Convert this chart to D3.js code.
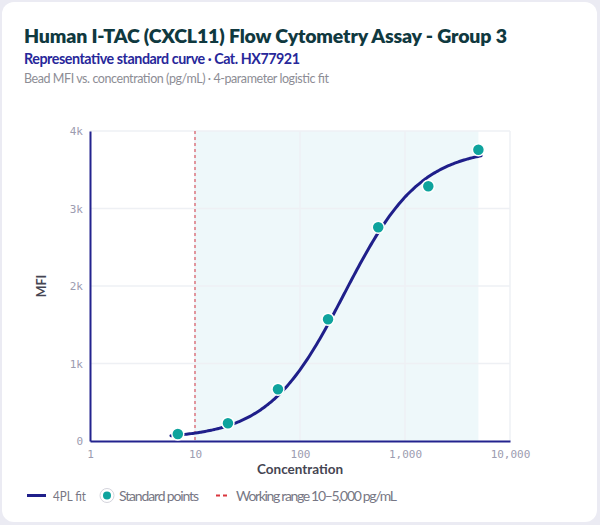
<!DOCTYPE html>
<html>
<head>
<meta charset="utf-8">
<script src="https://cdn.jsdelivr.net/npm/d3@7"></script>
<style>
  html, body { margin: 0; padding: 0; background: #ebebf3; }
  body { width: 600px; height: 525px; overflow: hidden; }
  svg { display: block; }
</style>
</head>
<body>
<div id="chart"></div>
<script>
// standard points (pg/mL, MFI)
const concentrations = [6.86, 20.6, 61.7, 185, 556, 1667, 5000];
const mfiValues = [90, 228, 667, 1570, 2757, 3286, 3759];

// 4PL fit parameters and plotted range
const fitParams = { bottom: 30, top: 3780, ec50: 265, hill: 1.2 };
const fitRange = [5.9, 5300];
const workingRange = [10, 5000];

const xTicks = [1, 10, 100, 1000, 10000];
const yTicks = [0, 1000, 2000, 3000, 4000];

const W = 600, H = 525;
const plot = { left: 90, right: 510, top: 131, bottom: 441 };

const svg = d3.select("#chart").append("svg")
    .attr("width", W)
    .attr("height", H);

// card
svg.append("rect")
    .attr("x", 2).attr("y", 2)
    .attr("width", 595).attr("height", 520)
    .attr("rx", 12)
    .attr("fill", "#fff");

const font = "Lato, 'Noto Sans', sans-serif";
const mono = "'DejaVu Sans Mono', monospace";

svg.append("text")
    .attr("x", 24).attr("y", 43)
    .attr("font-family", font).attr("font-weight", 800).attr("font-size", 19.5)
    .attr("textLength", 483).attr("lengthAdjust", "spacing")
    .attr("fill", "#10393f")
    .text("Human I-TAC (CXCL11) Flow Cytometry Assay - Group 3");
svg.append("text")
    .attr("x", 24).attr("y", 64)
    .attr("font-family", font).attr("font-weight", 700).attr("font-size", 14.3)
    .attr("textLength", 276).attr("lengthAdjust", "spacing")
    .attr("fill", "#27279a")
    .text("Representative standard curve \u00b7 Cat. HX77921");
svg.append("text")
    .attr("x", 24).attr("y", 83)
    .attr("font-family", font).attr("font-size", 12.5)
    .attr("textLength", 305).attr("lengthAdjust", "spacing")
    .attr("fill", "#8d8d95")
    .text("Bead MFI vs. concentration (pg/mL) \u00b7 4-parameter logistic fit");

const x = d3.scaleLog().domain([1, 10000]).range([plot.left, plot.right]);
const y = d3.scaleLinear().domain([0, 4000]).range([plot.bottom, plot.top]);

// working range shading
svg.append("rect")
    .attr("x", x(workingRange[0])).attr("y", plot.top)
    .attr("width", x(workingRange[1]) - x(workingRange[0]))
    .attr("height", plot.bottom - plot.top)
    .attr("fill", "#eef8fa");

// gridlines
const g = svg.append("g");
g.selectAll(".yg").data(yTicks.slice(1)).join("line")
    .attr("x1", plot.left).attr("x2", plot.right)
    .attr("y1", d => y(d)).attr("y2", d => y(d))
    .attr("stroke", "#eef0f4").attr("stroke-width", 1.5);
g.selectAll(".xg").data(xTicks.slice(1)).join("line")
    .attr("x1", d => x(d)).attr("x2", d => x(d))
    .attr("y1", plot.top).attr("y2", plot.bottom)
    .attr("stroke", "#eef0f4").attr("stroke-width", 1.5);

// working range lower limit
svg.append("line")
    .attr("x1", x(workingRange[0])).attr("x2", x(workingRange[0]))
    .attr("y1", plot.top).attr("y2", plot.bottom)
    .attr("stroke", "#d9646e").attr("stroke-width", 1.3)
    .attr("stroke-dasharray", "3,3");

// axes
const xAxis = d3.axisBottom(x).tickValues(xTicks).tickSize(0).tickPadding(9)
    .tickFormat(d3.format(",d"));
const yAxis = d3.axisLeft(y).tickValues(yTicks).tickSize(0).tickPadding(7)
    .tickFormat(d => d === 0 ? "0" : (d / 1000) + "k");

const gx = svg.append("g").attr("transform", `translate(0,${plot.bottom})`).call(xAxis);
const gy = svg.append("g").attr("transform", `translate(${plot.left},0)`).call(yAxis);
[gx, gy].forEach(a => {
    a.select(".domain").attr("stroke", "#23238e").attr("stroke-width", 2);
    a.selectAll("text").attr("font-family", mono).attr("font-size", 11).attr("fill", "#9c9cb0");
});

svg.append("text")
    .attr("x", (plot.left + plot.right) / 2).attr("y", 474)
    .attr("text-anchor", "middle")
    .attr("font-family", font).attr("font-weight", 700).attr("font-size", 13.5)
    .attr("fill", "#454552")
    .text("Concentration");
svg.append("text")
    .attr("transform", `translate(46,${(plot.top + plot.bottom) / 2}) rotate(-90)`)
    .attr("text-anchor", "middle")
    .attr("font-family", font).attr("font-weight", 700).attr("font-size", 12.5)
    .attr("fill", "#454552")
    .text("MFI");

// 4PL curve
const fourPL = c => fitParams.top + (fitParams.bottom - fitParams.top) / (1 + Math.pow(c / fitParams.ec50, fitParams.hill));
const curveX = d3.range(0, 201).map(i => Math.pow(10, Math.log10(fitRange[0]) + i / 200 * (Math.log10(fitRange[1]) - Math.log10(fitRange[0]))));
svg.append("path")
    .datum(curveX)
    .attr("d", d3.line().x(d => x(d)).y(d => y(fourPL(d))).curve(d3.curveMonotoneX))
    .attr("fill", "none")
    .attr("stroke", "#1f1f8a").attr("stroke-width", 3)
    .attr("stroke-linecap", "round");

// standard points
svg.selectAll(".pt").data(concentrations).join("circle")
    .attr("cx", d => x(d))
    .attr("cy", (d, i) => y(mfiValues[i]))
    .attr("r", 6)
    .attr("fill", "#0ea39d")
    .attr("stroke", "#fff").attr("stroke-width", 1.5);

// legend
const lg = svg.append("g").attr("font-family", font).attr("font-size", 14).attr("fill", "#777784");
lg.append("line").attr("x1", 27).attr("x2", 46).attr("y1", 495.5).attr("y2", 495.5)
    .attr("stroke", "#1f1f8a").attr("stroke-width", 3);
lg.append("text").attr("x", 53).attr("y", 500.5)
    .attr("textLength", 33).attr("lengthAdjust", "spacingAndGlyphs").text("4PL fit");
lg.append("circle").attr("cx", 107).attr("cy", 495.5).attr("r", 7)
    .attr("fill", "#fff").attr("stroke", "#d4d4dc").attr("stroke-width", 1);
lg.append("circle").attr("cx", 107).attr("cy", 495.5).attr("r", 4)
    .attr("fill", "#0ea39d");
lg.append("text").attr("x", 119).attr("y", 500.5)
    .attr("textLength", 80).attr("lengthAdjust", "spacing").text("Standard points");
lg.append("line").attr("x1", 216).attr("x2", 229).attr("y1", 495.5).attr("y2", 495.5)
    .attr("stroke", "#d9363e").attr("stroke-width", 2).attr("stroke-dasharray", "4,3");
lg.append("text").attr("x", 236).attr("y", 500.5)
    .attr("textLength", 161).attr("lengthAdjust", "spacing").text("Working range 10\u20135,000 pg/mL");
</script>
</body>
</html>
